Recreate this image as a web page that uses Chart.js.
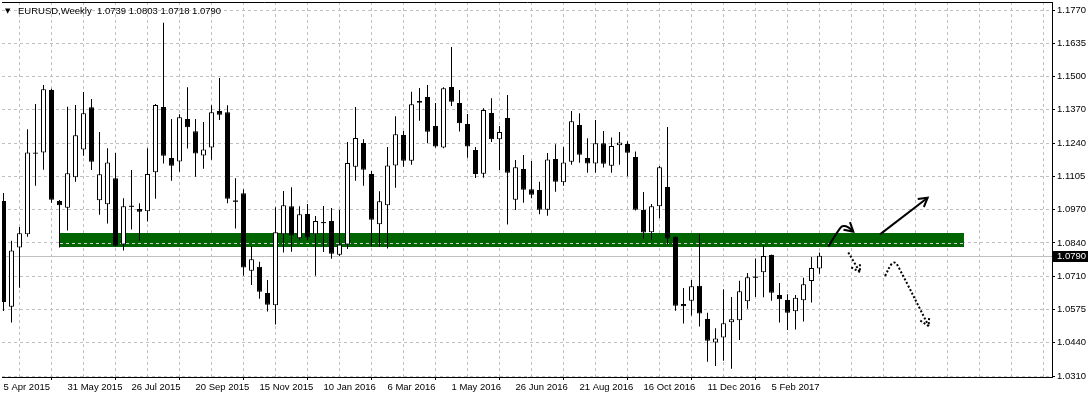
<!DOCTYPE html>
<html><head><meta charset="utf-8">
<script src="https://cdn.jsdelivr.net/npm/chart.js@4/dist/chart.umd.min.js"></script>
<style>html,body{margin:0;padding:0;background:#fff;overflow:hidden}#wrap{width:1091px;height:399px;position:relative}</style>
</head><body><div id="wrap"><canvas id="c" width="1091" height="399"></canvas></div>
<script>
// ---- data (weekly candles, first week = 5 Apr 2015) ----
const symbolTitle = 'EURUSD,Weekly';
const lastQuote = ['1.0739', '1.0803', '1.0718', '1.0790'];
const openP = [1.1008,1.0586,1.0823,1.0875,1.1202,1.1202,1.1451,1.1008,1.0981,1.1103,
  1.1214,1.1382,1.1011,1.0995,1.1099,1.0835,1.0985,1.0976,1.0967,1.1123,
  1.1383,1.1180,1.1166,1.1335,1.1286,1.1190,1.1222,1.1367,1.1362,1.1010,
  1.1039,1.0730,1.0746,1.0641,1.0592,1.0875,1.0987,1.0859,1.0956,1.0875,
  1.0924,1.0928,1.0794,1.0835,1.1145,1.1239,1.1116,1.0915,1.0991,1.1150,
  1.1271,1.1169,1.1400,1.1423,1.1307,1.1222,1.1463,1.1399,1.1315,1.1212,
  1.1117,1.1359,1.1254,1.1339,1.1013,1.1136,1.1055,1.1052,1.0973,1.1176,
  1.1083,1.1165,1.1311,1.1180,1.1158,1.1238,1.1149,1.1230,1.1235,1.1184,
  1.0972,1.0883,1.0987,1.1064,1.0865,1.0597,1.0610,1.0670,1.0537,1.0444,
  1.0464,1.0524,1.0532,1.0608,1.0706,1.0724,1.0793,1.0633,1.0613,1.0568,
  1.0612,1.0689,1.0739];
const highP = [1.1040,1.0850,1.0904,1.1294,1.1395,1.1471,1.1456,1.1012,1.1384,1.1391,
  1.1443,1.1415,1.1283,1.1219,1.1200,1.1019,1.1132,1.0999,1.1219,1.1395,
  1.1719,1.1335,1.1354,1.1462,1.1335,1.1323,1.1390,1.1499,1.1390,1.1099,
  1.1055,1.0829,1.0766,1.0693,1.0983,1.1048,1.1063,1.0987,1.0996,1.0948,
  1.0988,1.0980,1.0972,1.1243,1.1383,1.1254,1.1128,1.1047,1.1223,1.1346,
  1.1287,1.1444,1.1459,1.1471,1.1399,1.1462,1.1622,1.1451,1.1355,1.1223,
  1.1378,1.1418,1.1307,1.1431,1.1172,1.1192,1.1168,1.1085,1.1200,1.1234,
  1.1223,1.1367,1.1358,1.1258,1.1331,1.1287,1.1261,1.1283,1.1246,1.1206,
  1.1044,1.0996,1.1148,1.1303,1.0867,1.0661,1.0693,1.0876,1.0562,1.0500,
  1.0656,1.0625,1.0690,1.0721,1.0779,1.0831,1.0795,1.0681,1.0636,1.0633,
  1.0702,1.0785,1.0803];
const lowP = [1.0569,1.0523,1.0662,1.0865,1.1069,1.1133,1.1001,1.0823,1.0890,1.1085,
  1.1189,1.1132,1.0953,1.0918,1.0827,1.0811,1.0894,1.0850,1.0926,1.1017,
  1.1158,1.1089,1.1125,1.1218,1.1105,1.1137,1.1173,1.1331,1.0999,1.0898,
  1.0710,1.0673,1.0618,1.0567,1.0515,1.0803,1.0806,1.0851,1.0852,1.0710,
  1.0805,1.0778,1.0789,1.0817,1.1089,1.1069,1.0826,1.0826,1.0819,1.1061,
  1.1145,1.1153,1.1328,1.1238,1.1221,1.1219,1.1387,1.1285,1.1181,1.1100,
  1.1101,1.1243,1.1132,1.0914,1.0972,1.1001,1.1019,1.0955,1.0949,1.1045,
  1.1069,1.1153,1.1161,1.1121,1.1121,1.1142,1.1121,1.1153,1.1107,1.0970,
  1.0858,1.0855,1.0939,1.0835,1.0570,1.0519,1.0551,1.0507,1.0367,1.0350,
  1.0371,1.0339,1.0454,1.0578,1.0625,1.0624,1.0610,1.0523,1.0493,1.0495,
  1.0527,1.0603,1.0718];
const closeP = [1.0605,1.0811,1.0879,1.1202,1.1197,1.1454,1.1013,1.0991,1.1119,1.1270,
  1.1358,1.1165,1.1115,1.1162,1.0830,1.0987,1.0987,1.0965,1.1116,1.1391,
  1.1189,1.1149,1.1342,1.1302,1.1198,1.1214,1.1362,1.1352,1.1017,1.1005,
  1.0743,1.0776,1.0646,1.0594,1.0883,1.0991,1.0870,1.0955,1.0862,1.0928,
  1.0920,1.0798,1.0835,1.1160,1.1259,1.1133,1.0933,1.1007,1.1150,1.1274,
  1.1169,1.1394,1.1407,1.1284,1.1225,1.1458,1.1404,1.1318,1.1225,1.1116,
  1.1371,1.1254,1.1283,1.1121,1.1143,1.1053,1.1033,1.0973,1.1174,1.1085,
  1.1162,1.1326,1.1193,1.1158,1.1238,1.1157,1.1227,1.1241,1.1201,1.0973,
  1.0882,1.0987,1.1143,1.0858,1.0590,1.0588,1.0668,1.0559,1.0451,1.0460,
  1.0520,1.0536,1.0648,1.0704,1.0702,1.0789,1.0642,1.0616,1.0562,1.0622,
  1.0676,1.0741,1.0790];
const xTickWeeks = [0, 8, 16, 24, 32, 40, 48, 56, 64, 72, 80, 88, 96];
const xTickLabels = ['5 Apr 2015', '31 May 2015', '26 Jul 2015', '20 Sep 2015', '15 Nov 2015',
  '10 Jan 2016', '6 Mar 2016', '1 May 2016', '26 Jun 2016', '21 Aug 2016', '16 Oct 2016',
  '11 Dec 2016', '5 Feb 2017'];
const yTickLabels = ['1.0310', '1.0440', '1.0575', '1.0710', '1.0840', '1.0970',
  '1.1105', '1.1240', '1.1370', '1.1500', '1.1635', '1.1770'];
const currentPrice = 1.0790;
const zoneWeeks = [7, 120];
const zonePrices = [1.0824, 1.0881];
// hand-drawn forecast arrows (week index, price)
const arrow1Weeks = [103.1, 104.56, 104.98, 105.6, 106.23];
const arrow1Prices = [1.0826, 1.0899, 1.0908, 1.0903, 1.0886];
const arrow2Weeks = [109.56, 115.52];
const arrow2Prices = [1.0875, 1.1021];
const arrow3Weeks = [105.6, 107.06];
const arrow3Prices = [1.0803, 1.0724];
const arrow4Weeks = [110.19, 111.02, 111.44, 111.85, 115.65];
const arrow4Prices = [1.0709, 1.0757, 1.0762, 1.0746, 1.0509];

// ---- derived ----
const weekIdx = openP.map((_, i) => i);
const yMinTick = parseFloat(yTickLabels[0]), yMaxTick = parseFloat(yTickLabels[yTickLabels.length - 1]);
const yTickValues = yTickLabels.map((_, i) => yMinTick + i * (yMaxTick - yMinTick) / (yTickLabels.length - 1));
const xGridWeeks = []; for (let w = 0; w <= 128; w += 4) xGridWeeks.push(w);
const pxPerUnit = 366 / (yMaxTick - yMinTick);
const yMax = yMaxTick + 8 / pxPerUnit, yMin = yMinTick - 1 / pxPerUnit;
const xMin = -0.1875, xMax = xMin + 1050 / 8;

const isDoji = i => Math.abs(closeP[i] - openP[i]) < 0.0005;
const bodyFill = i => (isDoji(i) || closeP[i] < openP[i]) ? '#000' : '#fff';

const mkArrow = (xs, ys, dotted, curve) => ({
  type: 'line', data: xs.map((x, i) => ({x, y: ys[i]})), borderColor: '#000', borderWidth: 2,
  pointRadius: 0, tension: curve ? 0.4 : 0, borderDash: dotted ? [2, 2] : [], order: 0,
  arrow: true, dotted, borderCapStyle: 'butt'
});

const overlay = {
  id: 'overlay',
  beforeDatasetsDraw(chart) {
    const {ctx, chartArea, scales: {x, y}} = chart;
    ctx.save();
    const py = Math.round(y.getPixelForValue(currentPrice)) + 0.5;
    ctx.strokeStyle = '#c0c0c0'; ctx.lineWidth = 1;
    ctx.beginPath(); ctx.moveTo(chartArea.left, py); ctx.lineTo(chartArea.right, py); ctx.stroke();
    const x0 = Math.round(x.getPixelForValue(zoneWeeks[0])), x1 = Math.round(x.getPixelForValue(zoneWeeks[1]));
    const y0 = Math.round(y.getPixelForValue(zonePrices[1])), y1 = Math.round(y.getPixelForValue(zonePrices[0]));
    ctx.fillStyle = '#006400';
    ctx.fillRect(x0, y0, x1 - x0, y1 - y0);
    const gy = Math.round(y.getPixelForValue(yTickValues[4])) + 0.5;
    ctx.strokeStyle = '#d0d0d0'; ctx.setLineDash([3, 3]);
    ctx.beginPath(); ctx.moveTo(x0, gy); ctx.lineTo(x1, gy); ctx.stroke();
    ctx.restore();
  },
  afterDatasetsDraw(chart) {
    const {ctx} = chart;
    chart.data.datasets.forEach((ds, i) => {
      if (!ds.arrow) return;
      const pts = chart.getDatasetMeta(i).data;
      const tip = pts[pts.length - 1], prev = pts[pts.length - 2];
      const a = Math.atan2(tip.y - prev.y, tip.x - prev.x);
      const L = 10, s = Math.PI / 6;
      ctx.save();
      ctx.strokeStyle = '#000'; ctx.lineWidth = 2;
      ctx.setLineDash(ds.dotted ? [2, 2] : []);
      ctx.beginPath();
      ctx.moveTo(tip.x - L * Math.cos(a - s), tip.y - L * Math.sin(a - s));
      ctx.lineTo(tip.x, tip.y);
      ctx.lineTo(tip.x - L * Math.cos(a + s), tip.y - L * Math.sin(a + s));
      ctx.stroke();
      ctx.restore();
    });
  },
  afterDraw(chart) {
    const {ctx, chartArea, scales: {y}} = chart;
    ctx.save();
    ctx.strokeStyle = '#000'; ctx.lineWidth = 1;
    ctx.beginPath(); ctx.moveTo(chartArea.left, chartArea.top + 0.5); ctx.lineTo(chartArea.right + 1, chartArea.top + 0.5); ctx.stroke();
    ctx.fillStyle = '#000';
    ctx.font = '7px "DejaVu Sans"';
    ctx.textBaseline = 'alphabetic';
    ctx.fillText('\u25BC', 5, 13);
    ctx.font = '9.5px "Liberation Sans"';
    ctx.fillText(symbolTitle + '  ' + lastQuote.join(' '), 18, 14);
    const py = Math.round(y.getPixelForValue(currentPrice));
    ctx.fillStyle = '#000';
    ctx.fillRect(chartArea.right + 1, py - 5, 35, 11);
    ctx.fillStyle = '#fff';
    ctx.textBaseline = 'middle';
    ctx.fillText(currentPrice.toFixed(4), chartArea.right + 5, py + 0.5);
    ctx.restore();
  }
};

Chart.defaults.font.family = '"Liberation Sans", Arial, sans-serif';
Chart.defaults.font.size = 9.5;
Chart.defaults.color = '#000';

new Chart(document.getElementById('c'), {
  type: 'bar',
  data: {
    datasets: [
      mkArrow(arrow1Weeks, arrow1Prices, false, true),
      mkArrow(arrow2Weeks, arrow2Prices, false, false),
      mkArrow(arrow3Weeks, arrow3Prices, true, false),
      mkArrow(arrow4Weeks, arrow4Prices, true, true),
      {
        label: 'body', order: 1,
        data: weekIdx.map(i => ({x: i, y: [openP[i], closeP[i]]})),
        barThickness: 5, minBarLength: 1, grouped: false,
        backgroundColor: c => bodyFill(c.dataIndex),
        borderColor: '#000', borderWidth: c => isDoji(c.dataIndex) ? 0 : 1,
        borderSkipped: false, inflateAmount: 0
      },
      {
        label: 'wick', order: 2,
        data: weekIdx.map(i => ({x: i, y: [lowP[i], highP[i]]})),
        barThickness: 1, grouped: false, backgroundColor: '#000', borderWidth: 0,
        inflateAmount: 0
      }
    ]
  },
  options: {
    responsive: false, animation: false, events: [],
    layout: {padding: {left: 2, top: 2, right: 0, bottom: 0}},
    plugins: {legend: {display: false}, tooltip: {enabled: false}, title: {display: false}},
    scales: {
      x: {
        type: 'linear', min: xMin, max: xMax, bounds: 'data', offset: false,
        afterBuildTicks: s => { s.ticks = xGridWeeks.map(v => ({value: v})); },
        afterFit: s => { s.height = 22; s.paddingLeft = 0; s.paddingRight = 0; },
        ticks: {
          autoSkip: false, maxRotation: 0, minRotation: 0, align: 'start', padding: 2,
          callback: v => { const i = xTickWeeks.indexOf(v); return i >= 0 ? xTickLabels[i] : ''; }
        },
        grid: {
          color: '#c0c0c0', lineWidth: 1, tickLength: 3,
          tickColor: c => (c.tick && xTickWeeks.includes(c.tick.value)) ? '#000' : 'rgba(0,0,0,0)',
          tickBorderDash: []
        },
        border: {display: true, color: '#000', width: 1, dash: [3, 3]}
      },
      y: {
        type: 'linear', position: 'right', min: yMin, max: yMax, bounds: 'data',
        afterBuildTicks: s => { s.ticks = yTickValues.map(v => ({value: v})); },
        afterFit: s => { s.width = 39; s.paddingTop = 0; s.paddingBottom = 0; },
        ticks: {autoSkip: false, padding: 2, callback: (v, i) => yTickLabels[i]},
        grid: {color: '#c0c0c0', lineWidth: 1, tickLength: 3, tickColor: '#000', tickBorderDash: []},
        border: {display: true, color: '#000', width: 1, dash: [3, 3]}
      }
    }
  },
  plugins: [overlay]
});
</script>
</body></html>
